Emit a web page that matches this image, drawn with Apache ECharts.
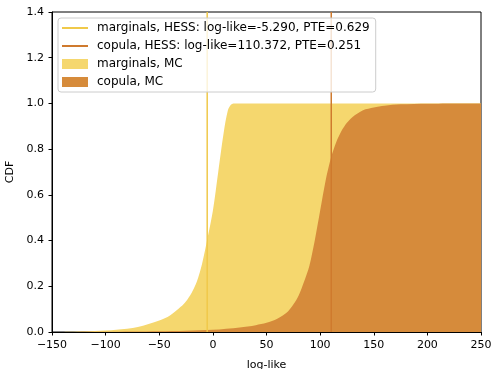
<!DOCTYPE html>
<html><head><meta charset="utf-8">
<script src="https://cdn.jsdelivr.net/npm/echarts@6/dist/echarts.min.js"></script>
<style>html,body{margin:0;padding:0;background:#fff}#c{width:495px;height:369px}</style>
</head><body><div id="c"></div>
<script>
// marginals MC CDF
const margX = [-150,-130,-110,-90,-70,-50,-40,-30,-25,-20,-15,-10,-5,0,5,10,14,17,20,250];
const margY = [0,0.001,0.004,0.01,0.022,0.05,0.072,0.11,0.135,0.17,0.22,0.3,0.41,0.53,0.70,0.87,0.97,0.995,1.0,1.0];
// copula MC CDF
const copX = [-150,-100,-50,0,25,40,50,60,70,75,80,85,90,95,100,105,110,115,120,125,130,140,150,160,175,200,250];
const copY = [0,0.001,0.003,0.01,0.02,0.03,0.04,0.058,0.09,0.12,0.16,0.22,0.29,0.40,0.53,0.66,0.76,0.83,0.88,0.915,0.94,0.97,0.982,0.99,0.996,0.999,1.0];
// HESS values
const hessNames = ['marginals, HESS: log-like=-5.290, PTE=0.629','copula, HESS: log-like=110.372, PTE=0.251'];
const hessLogLike = [-5.290, 110.372];
const mcNames = ['marginals, MC','copula, MC'];
const xTicks = {min:-150, max:250, interval:50};
const yTicks = {min:0, max:1.4, interval:0.2};

const fillColors = ['#f5d76e','#d68b3b'];
const lineColors = ['#f0c94a','#cf7a2e'];
const zip = (a,b)=>a.map((v,i)=>[v,b[i]]);
const lineIcon = 'path://M0,0L0,0M0,4L26,4L26,6L0,6ZM26,10L26,10';

const chart = echarts.init(document.getElementById('c'), null, {renderer:'canvas'});
const font = 'DejaVu Sans';
chart.setOption({
  animation:false,
  textStyle:{fontFamily:font},
  grid:{left:52,right:14,top:12,bottom:37,show:true,borderColor:'#000',borderWidth:1,backgroundColor:'transparent',
    outerBoundsMode:'none',containLabel:false},
  xAxis:{type:'value',min:xTicks.min,max:xTicks.max,interval:xTicks.interval,
    name:'log-like',nameLocation:'middle',nameGap:28,nameTextStyle:{fontSize:11,color:'#000',fontFamily:font},
    axisLine:{show:true,onZero:false,lineStyle:{color:'#000',width:1}},
    axisTick:{show:true,inside:false,length:3.5,lineStyle:{color:'#000'}},
    axisLabel:{fontSize:11,color:'#000',fontFamily:font,margin:8,formatter:v=>String(v).replace('-','\u2212')},
    splitLine:{show:false}},
  yAxis:{type:'value',min:yTicks.min,max:yTicks.max,interval:yTicks.interval,
    name:'CDF',nameLocation:'middle',nameGap:30,nameTextStyle:{fontSize:11,color:'#000',fontFamily:font},
    axisLine:{show:true,onZero:false,lineStyle:{color:'#000',width:1}},
    axisTick:{show:true,inside:false,length:3.5,lineStyle:{color:'#000'}},
    axisLabel:{fontSize:11,color:'#000',fontFamily:font,margin:8,formatter:v=>v.toFixed(1)},
    splitLine:{show:false}},
  legend:{orient:'vertical',left:58,top:18,padding:[4,6,4,4],itemGap:6,itemWidth:26,itemHeight:10,
    backgroundColor:'rgba(255,255,255,0.8)',borderColor:'#cccccc',borderWidth:1,borderRadius:3,
    textStyle:{fontSize:12,color:'#000',fontFamily:font,padding:[0,0,0,4],lineHeight:12},
    data:[{name:hessNames[0],icon:lineIcon},{name:hessNames[1],icon:lineIcon},{name:mcNames[0],icon:'rect'},{name:mcNames[1],icon:'rect'}]},
  series:[
    {name:mcNames[0],type:'line',data:zip(margX,margY),smooth:0.3,symbol:'none',z:1,
      lineStyle:{width:0,color:fillColors[0]},itemStyle:{color:fillColors[0]},areaStyle:{color:fillColors[0],opacity:1}},
    {name:mcNames[1],type:'line',data:zip(copX,copY),smooth:0.3,symbol:'none',z:2,
      lineStyle:{width:0,color:fillColors[1]},itemStyle:{color:fillColors[1]},areaStyle:{color:fillColors[1],opacity:1}},
    {name:hessNames[0],type:'line',data:[[hessLogLike[0],yTicks.min],[hessLogLike[0],yTicks.max]],symbol:'none',z:3,
      lineStyle:{width:1.5,color:lineColors[0]},itemStyle:{color:lineColors[0]}},
    {name:hessNames[1],type:'line',data:[[hessLogLike[1],yTicks.min],[hessLogLike[1],yTicks.max]],symbol:'none',z:3,
      lineStyle:{width:1.5,color:lineColors[1]},itemStyle:{color:lineColors[1]}}
  ]
});
</script></body></html>
